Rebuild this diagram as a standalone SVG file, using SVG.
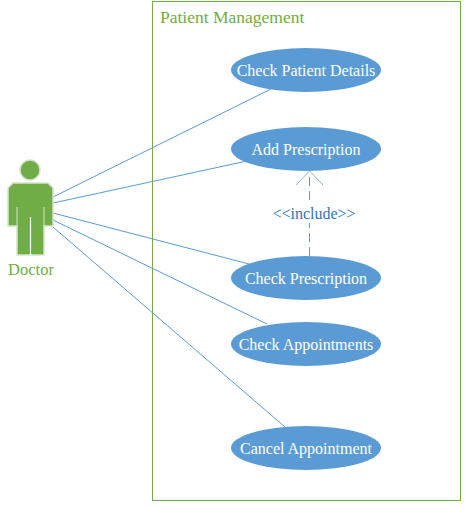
<svg xmlns="http://www.w3.org/2000/svg" width="467" height="507" viewBox="0 0 467 507">
<style>
text{font-family:"Liberation Serif","Times New Roman",serif}
.uc ellipse{fill:#5b9bd5;stroke:none}
.uc text{fill:#fff;font-size:16px;text-anchor:middle}
.c{stroke:#5b9bd5;stroke-width:1;fill:none}
.g{fill:#70ad47}
</style>
<rect width="467" height="507" fill="#fff"/>
<g id="system">
<rect x="152.500" y="1.500" width="308" height="499" fill="#fff" stroke="#70ad47" stroke-width="1"/>
<text x="160" y="23" class="g" font-size="17.500">Patient Management</text>
</g>
<g id="connectors">
<path class="c" d="M53 197L271 89M53 203L247 161M53 213L249 264M53 220L267 324M53 227L285 427"/>
<path class="c" stroke-dasharray="9 5" d="M309.500 256V172"/>
<path class="c" style="stroke:#8fb4de" d="M296 185L309.500 171L323 185"/>
</g>
<g id="doctor">
<circle cx="30" cy="170" r="10" class="g" stroke="#d5e3cb" stroke-width="1.500"/>
<path class="g" stroke="#d5e3cb" stroke-width="1.500" d="M13 183H48L53 188V226H44V255H17V226H8V188Z"/>
<path d="M30.500 217V255" stroke="#fff" stroke-width="1.200"/>
<path d="M17 207V226M44 207V226" stroke="#d5e3cb" stroke-width="1"/>
<text x="31" y="275" class="g" font-size="16.500" text-anchor="middle">Doctor</text>
</g>
<g id="uc1" class="uc"><ellipse cx="306" cy="70" rx="75" ry="22"/><text x="306" y="75.500">Check Patient Details</text></g>
<g id="uc2" class="uc"><ellipse cx="306" cy="149" rx="75" ry="22"/><text x="306" y="154.500">Add Prescription</text></g>
<g id="uc3" class="uc"><ellipse cx="306" cy="278" rx="75" ry="22"/><text x="306" y="283.500">Check Prescription</text></g>
<g id="uc4" class="uc"><ellipse cx="306" cy="344" rx="75" ry="22"/><text x="306" y="349.500">Check Appointments</text></g>
<g id="uc5" class="uc"><ellipse cx="306" cy="448" rx="75" ry="22"/><text x="306" y="453.500">Cancel Appointment</text></g>
<g id="include"><rect x="272" y="205" width="84" height="18" fill="#fff"/><text x="314" y="219" font-size="16" fill="#2e75b6" text-anchor="middle">&lt;&lt;include&gt;&gt;</text></g>
</svg>
